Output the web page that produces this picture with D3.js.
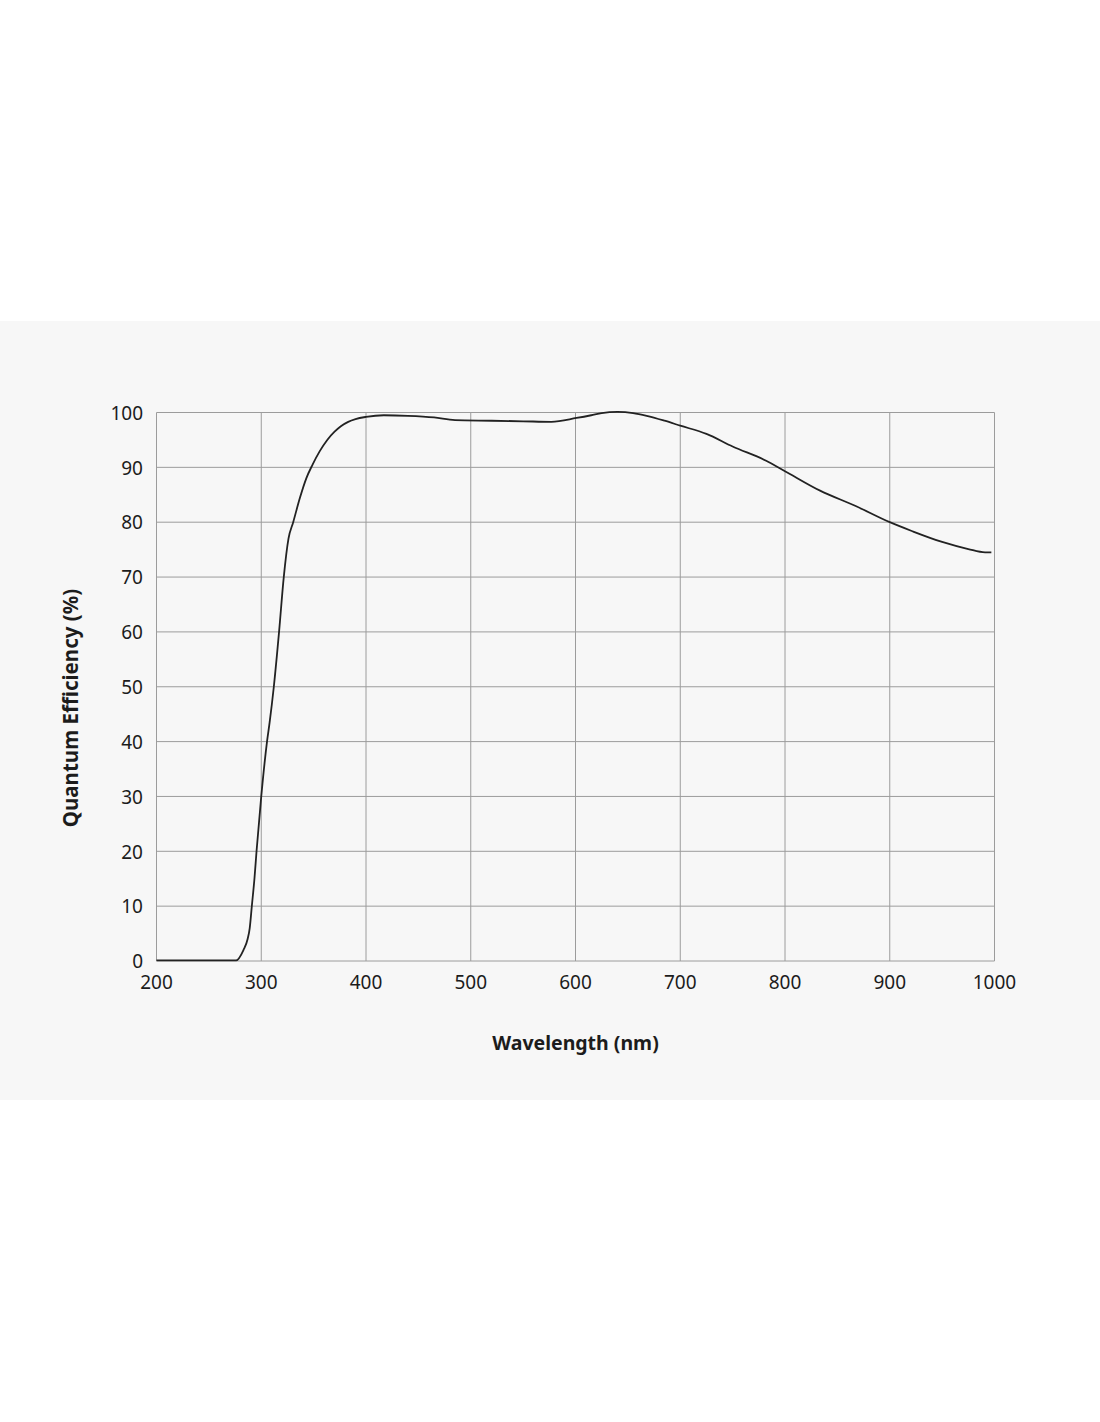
<!doctype html>
<html>
<head>
    <meta charset="utf-8">
    <title>Quantum Efficiency</title>
    <script src="https://d3js.org/d3.v7.min.js"></script>
    <style>
        html, body { margin: 0; padding: 0; background: #ffffff; }
        svg { display: block; font-family: "Noto Sans", sans-serif; }
    </style>
</head>
<body>
<svg class="plot"></svg>

<script>
    // data
    var wavelength = [200, 276, 283, 287, 289, 291, 293.5, 295.5, 300, 305.5, 308, 312, 317,
        321.5, 326, 330.5, 337, 343, 349, 356, 363, 370, 376, 383, 390, 400, 417, 440,
        465, 485, 520, 550, 577, 601, 615, 625, 640, 655, 668, 685, 700, 725, 750, 782,
        800, 833, 868, 900, 921, 950, 975, 991, 997];
    var efficiency = [0.1, 0.1, 2, 4, 6, 10, 15, 20, 30, 40, 43.5, 50, 60,
        70, 77, 80, 84.5, 88, 90.5, 93, 95, 96.5, 97.5, 98.3, 98.8, 99.2, 99.5, 99.4,
        99.1, 98.6, 98.5, 98.4, 98.3, 99.0, 99.5, 99.9, 100.1, 99.9, 99.4, 98.5, 97.6, 96.1, 93.8, 91.2,
        89.3, 85.8, 82.9, 80, 78.4, 76.4, 75.1, 74.5, 74.5];
    var xTicks = [200, 300, 400, 500, 600, 700, 800, 900, 1000];
    var yTicks = [0, 10, 20, 30, 40, 50, 60, 70, 80, 90, 100];

    var width = 1100, height = 1422;
    var plotLeft = 156.5, plotRight = 994.5, plotTop = 412.5, plotBottom = 961;

    var plot = d3.select(".plot").attr("width", width).attr("height", height);

    // grey band behind the chart
    plot.append("rect")
        .attr("x", 0).attr("y", 321)
        .attr("width", width).attr("height", 779)
        .attr("fill", "#f7f7f7");

    var xScale = d3.scaleLinear().domain([200, 1000]).range([plotLeft, plotRight]);
    var yScale = d3.scaleLinear().domain([0, 100]).range([plotBottom, plotTop]);

    var grid = plot.append("g").attr("stroke", "#9c9c9c").attr("stroke-width", 1);
    grid.append("g").selectAll("line").data(xTicks).join("line")
        .attr("x1", d => xScale(d)).attr("x2", d => xScale(d))
        .attr("y1", plotTop).attr("y2", plotBottom);
    grid.append("g").selectAll("line").data(yTicks).join("line")
        .attr("x1", plotLeft).attr("x2", plotRight)
        .attr("y1", d => yScale(d)).attr("y2", d => yScale(d));

    plot.append("g").selectAll("text").data(yTicks).join("text")
        .attr("x", 143)
        .attr("y", d => yScale(d))
        .attr("dy", "0.38em")
        .attr("text-anchor", "end")
        .attr("font-size", 19)
        .attr("fill", "#1c1c1c")
        .text(d => d);

    plot.append("g").selectAll("text").data(xTicks).join("text")
        .attr("x", d => xScale(d))
        .attr("y", 989)
        .attr("text-anchor", "middle")
        .attr("font-size", 19)
        .attr("fill", "#1c1c1c")
        .text(d => d);

    var line = d3.line()
        .x((d, i) => xScale(wavelength[i]))
        .y(d => yScale(d))
        .curve(d3.curveMonotoneX);

    plot.append("path")
        .attr("d", line(efficiency))
        .attr("fill", "none")
        .attr("stroke", "#222222")
        .attr("stroke-width", 1.8);

    plot.append("text")
        .attr("x", (plotLeft + plotRight) / 2)
        .attr("y", 1050)
        .attr("text-anchor", "middle")
        .attr("font-size", 19.5)
        .attr("font-weight", "bold")
        .attr("fill", "#1c1c1c")
        .text("Wavelength (nm)");

    plot.append("text")
        .attr("transform", "translate(78,708) rotate(-90)")
        .attr("text-anchor", "middle")
        .attr("font-size", 20.5)
        .attr("font-weight", "bold")
        .attr("fill", "#1c1c1c")
        .text("Quantum Efficiency (%)");
</script>
</body>
</html>
